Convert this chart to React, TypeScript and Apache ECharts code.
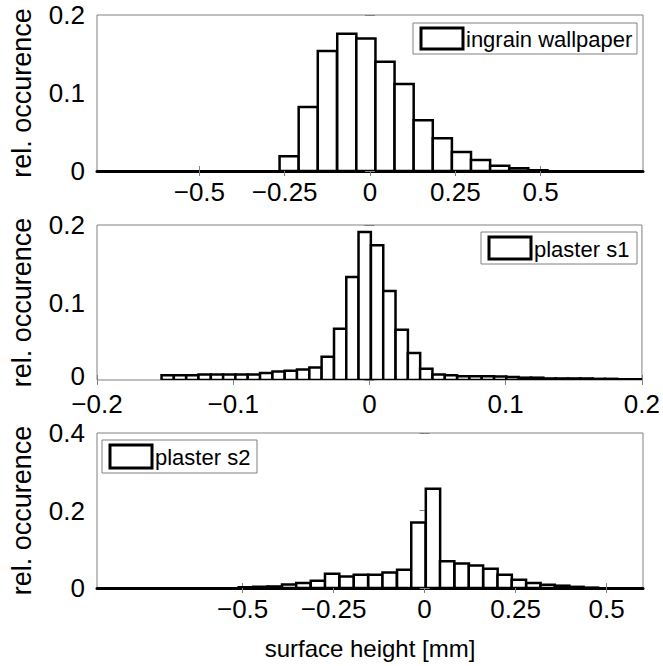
import React, { useEffect, useRef } from "react";
import * as echarts from "echarts";

// Panel 1: ingrain wallpaper
const p1Centers = [-0.237, -0.181, -0.125, -0.068, -0.012, 0.044, 0.1, 0.156, 0.212, 0.268, 0.324, 0.38, 0.436, 0.492];
const p1Values = [0.019, 0.082, 0.154, 0.176, 0.17, 0.14, 0.1115, 0.065, 0.042, 0.0244, 0.014, 0.0068, 0.0034, 0.001];
const p1BinWidth = 0.056;
const p1XTicks = [-0.5, -0.25, 0, 0.25, 0.5];

// Panel 2: plaster s1
const p2Centers = [
  -0.1481, -0.1391, -0.13, -0.121, -0.1119, -0.1029, -0.0939, -0.0848, -0.0758, -0.0667,
  -0.0577, -0.0487, -0.0396, -0.0306, -0.0215, -0.0125, -0.0035, 0.0056, 0.0146, 0.0237,
  0.0327, 0.0417, 0.0508, 0.0598, 0.0689, 0.0779, 0.0869, 0.096, 0.105, 0.1141,
  0.1231, 0.1321, 0.1412, 0.1502, 0.1593, 0.1683, 0.1773, 0.1864, 0.1954,
];
const p2Values = [
  0.006, 0.006, 0.006, 0.007, 0.007, 0.007, 0.007, 0.007, 0.009, 0.011,
  0.012, 0.0135, 0.016, 0.03, 0.066, 0.133, 0.191, 0.174, 0.115, 0.065,
  0.035, 0.0145, 0.007, 0.006, 0.005, 0.005, 0.005, 0.0045, 0.004, 0.003,
  0.003, 0.002, 0.002, 0.002, 0.002, 0.0015, 0.0015, 0.001, 0.001,
];
const p2BinWidth = 0.00904;
const p2XTicks = [-0.2, -0.1, 0, 0.1, 0.2];

// Panel 3: plaster s2
const p3Centers = [
  -0.491, -0.451, -0.412, -0.372, -0.333, -0.293, -0.254, -0.214, -0.175, -0.135,
  -0.096, -0.056, -0.017, 0.023, 0.062, 0.102, 0.141, 0.181, 0.22, 0.259,
  0.299, 0.338, 0.378, 0.417, 0.457,
];
const p3Values = [
  0.002, 0.003, 0.004, 0.009, 0.013, 0.019, 0.037, 0.03, 0.034, 0.034,
  0.04, 0.047, 0.169, 0.256, 0.069, 0.063, 0.058, 0.05, 0.034, 0.021,
  0.013, 0.0085, 0.006, 0.003, 0.001,
];
const p3BinWidth = 0.0394;
const p3XTicks = [-0.5, -0.25, 0, 0.25, 0.5];

const legendNames = ["ingrain wallpaper", "plaster s1", "plaster s2"];
const yTitle = "rel. occurence";
const xTitle = "surface height [mm]";

const FONT = "'Liberation Sans', Arial, Helvetica, sans-serif";
const GRAY = "#808080";

const fmt = (v: number) => (v < 0 ? "\u2212" + String(Math.abs(v)) : String(v));

export default function App() {
  const ref = useRef<HTMLDivElement>(null);
  useEffect(() => {
    if (!ref.current) return;
    const chart = echarts.init(ref.current, null, { renderer: "svg" });

    const grids = [
      { left: 95, width: 548, top: 15, height: 156 },
      { left: 95, width: 548, top: 225, height: 155 },
      { left: 95, width: 548, top: 433, height: 155 },
    ];
    const xRanges = [
      [-0.8, 0.8],
      [-0.2, 0.2],
      [-0.9, 0.6],
    ];
    const yMax = [0.2, 0.2, 0.4];
    const yInt = [0.1, 0.1, 0.2];
    const xTicks = [p1XTicks, p2XTicks, p3XTicks];
    const thickBase = [true, false, true];
    const xLabelMargin = [12, 15, 12];
    const centers = [p1Centers, p2Centers, p3Centers];
    const values = [p1Values, p2Values, p3Values];
    const widths = [p1BinWidth, p2BinWidth, p3BinWidth];

    const xAxis: any[] = [];
    const yAxis: any[] = [];
    const series: any[] = [];
    grids.forEach((_, i) => {
      xAxis.push({
        type: "value",
        gridIndex: i,
        position: "bottom",
        min: xRanges[i][0],
        max: xRanges[i][1],
        splitLine: { show: false },
        axisLine: thickBase[i]
          ? { show: true, onZero: false, lineStyle: { color: "#000", width: 3 } }
          : { show: false },
        axisTick: { show: true, inside: true, length: 5, customValues: xTicks[i], lineStyle: { color: GRAY } },
        axisLabel: {
          customValues: xTicks[i],
          formatter: fmt,
          fontFamily: FONT,
          fontSize: 26,
          lineHeight: 18,
          color: "#000",
          margin: xLabelMargin[i],
          showMinLabel: true,
          showMaxLabel: true,
          hideOverlap: false,
        },
        ...(i === 2
          ? {
              name: xTitle,
              nameLocation: "middle",
              nameGap: 48,
              nameTextStyle: { fontFamily: FONT, fontSize: 24, color: "#000" },
            }
          : {}),
      });
      xAxis.push({
        type: "value",
        gridIndex: i,
        position: "top",
        min: xRanges[i][0],
        max: xRanges[i][1],
        splitLine: { show: false },
        axisLine: { show: false },
        axisTick: { show: true, inside: true, length: 5, customValues: xTicks[i], lineStyle: { color: GRAY } },
        axisLabel: { show: false },
      });
      const liftZero = i === 1;
      yAxis.push({
        type: "value",
        gridIndex: i,
        position: "left",
        min: 0,
        max: yMax[i],
        interval: yInt[i],
        splitLine: { show: false },
        axisLine: { show: false },
        axisTick: { show: true, inside: true, length: 5, lineStyle: { color: GRAY } },
        axisLabel: {
          fontFamily: FONT,
          fontSize: 26,
          lineHeight: 18,
          color: "#000",
          margin: 12,
          formatter: liftZero ? (v: number) => (v === 0 ? "{lo|0}" : String(v)) : undefined,
          rich: liftZero
            ? { lo: { fontFamily: FONT, fontSize: 26, lineHeight: 18, color: "#000", padding: [0, 0, 8, 0] } }
            : undefined,
        },
        name: yTitle,
        nameLocation: "middle",
        nameGap: 62,
        nameTextStyle: { fontFamily: FONT, fontSize: 27, color: "#000" },
      });
      yAxis.push({
        type: "value",
        gridIndex: i,
        position: "right",
        min: 0,
        max: yMax[i],
        interval: yInt[i],
        splitLine: { show: false },
        axisLine: { show: false },
        axisTick: { show: true, inside: true, length: 5, lineStyle: { color: GRAY } },
        axisLabel: { show: false },
      });
      const w = widths[i];
      series.push({
        type: "custom",
        xAxisIndex: i * 2,
        yAxisIndex: i * 2,
        clip: true,
        encode: { x: 0, y: 1 },
        data: centers[i].map((c, k) => [c, values[i][k]]),
        renderItem: (params: any, api: any) => {
          const c = api.value(0);
          const v = api.value(1);
          const p0 = api.coord([c - w / 2, v]);
          const p1 = api.coord([c + w / 2, 0]);
          return {
            type: "rect",
            shape: { x: p0[0], y: p0[1], width: p1[0] - p0[0], height: p1[1] - p0[1] },
            style: { fill: "#fff", stroke: "#000", lineWidth: 2.5 },
          };
        },
        z: 3,
      });
    });

    const legendBoxes = [
      { x: 413, y: 23, w: 224, h: 31 },
      { x: 481, y: 232, w: 156, h: 32 },
      { x: 102, y: 440, w: 155, h: 33 },
    ];
    const graphic: any[] = [];
    legendBoxes.forEach((b, i) => {
      graphic.push({
        type: "rect",
        shape: { x: b.x, y: b.y, width: b.w, height: b.h },
        style: { fill: "#fff", stroke: GRAY, lineWidth: 1 },
        z: 10,
      });
      graphic.push({
        type: "rect",
        shape: { x: b.x + 8, y: b.y + 5, width: 42, height: b.h - 10 },
        style: { fill: "#fff", stroke: "#000", lineWidth: 3 },
        z: 11,
      });
      graphic.push({
        type: "text",
        x: b.x + 53,
        y: b.y + b.h / 2 + 1,
        style: {
          text: legendNames[i],
          fontFamily: FONT,
          fontSize: 22,
          fill: "#000",
          verticalAlign: "middle",
          align: "left",
        },
        z: 11,
      });
    });

    chart.setOption({
      animation: false,
      backgroundColor: "#fff",
      grid: grids.map((g) => ({ ...g, show: true, borderColor: GRAY, borderWidth: 1, backgroundColor: "#fff", containLabel: false })),
      xAxis,
      yAxis,
      series,
      graphic,
    });
    return () => chart.dispose();
  }, []);
  return (
    <div
      ref={ref}
      style={{ position: "absolute", left: 0, top: 0, width: 663, height: 666 }}
    />
  );
}
